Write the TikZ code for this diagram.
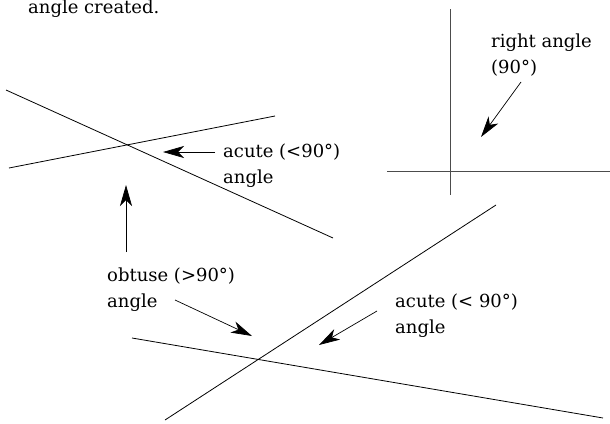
\documentclass[tikz,border=0pt]{standalone}
\usepackage{fontspec}
\setmainfont{DejaVu Serif}
\usetikzlibrary{arrows.meta}

\tikzset{
	pointer/.style={-{Stealth[length=21pt,width=12pt,inset=6pt]}, line width=0.7pt},
	angle text/.style={anchor=base west, inner sep=0pt, align=left,
		font=\fontsize{18}{26}\selectfont},
	crossing/.style={line width=0.8pt},
	square line/.style={line width=0.8pt, black!70}
}

\begin{document}
\begin{tikzpicture}[x=1pt,y=-1pt]
	\useasboundingbox (0,0) rectangle (610,423);
	% Caption left over from the text above
	\node[angle text] (Caption) at (28,13) {angle created.};

	% First pair of crossing lines (upper left)
	\draw[crossing] (6,90) coordinate (Steep Start) -- (333,238)
		coordinate (Steep End);
	\draw[crossing] (9,168) coordinate (Flat Start) -- (275,116)
		coordinate (Flat End);
	% Labels and arrows for the first pair
	%	(base of a two-line node sits on its last line)
	\node[angle text] (Acute Upper) at (223,183) {acute (<90°)\\angle};
	\coordinate (Acute Upper Tail) at (215,152);
	\coordinate (Acute Upper Tip) at (163,152);
	\draw[pointer] (Acute Upper Tail) -- (Acute Upper Tip);
	\node[angle text] (Obtuse) at (107,307) {obtuse (>90°)\\angle};
	\coordinate (Obtuse Up Tail) at (126,252);
	\coordinate (Obtuse Up Tip) at (126,185);
	\draw[pointer] (Obtuse Up Tail) -- (Obtuse Up Tip);

	% Second pair of crossing lines (bottom)
	\draw[crossing] (165,420) coordinate (Rise Start) -- (496,205)
		coordinate (Rise End);
	\draw[crossing] (132,338) coordinate (Low Start) -- (603,418)
		coordinate (Low End);
	\coordinate (Obtuse Down Tail) at (175,300);
	\coordinate (Obtuse Down Tip) at (252,336);
	\draw[pointer] (Obtuse Down Tail) -- (Obtuse Down Tip);
	\node[angle text] (Acute Lower) at (395,333) {acute (< 90°)\\angle};
	\coordinate (Acute Lower Tail) at (377,311);
	\coordinate (Acute Lower Tip) at (319,345);
	\draw[pointer] (Acute Lower Tail) -- (Acute Lower Tip);

	% The right angle (upper right)
	\draw[square line] (450,9) coordinate (Upright Top) -- (450,195)
		coordinate (Upright Bottom);
	\draw[square line] (387,171) coordinate (Level Left) -- (610,171)
		coordinate (Level Right);
	\node[angle text] (Right) at (491,73) {right angle\\(90°)};
	\coordinate (Right Tail) at (521,82);
	\coordinate (Right Tip) at (481,137);
	\draw[pointer] (Right Tail) -- (Right Tip);
\end{tikzpicture}
\end{document}
